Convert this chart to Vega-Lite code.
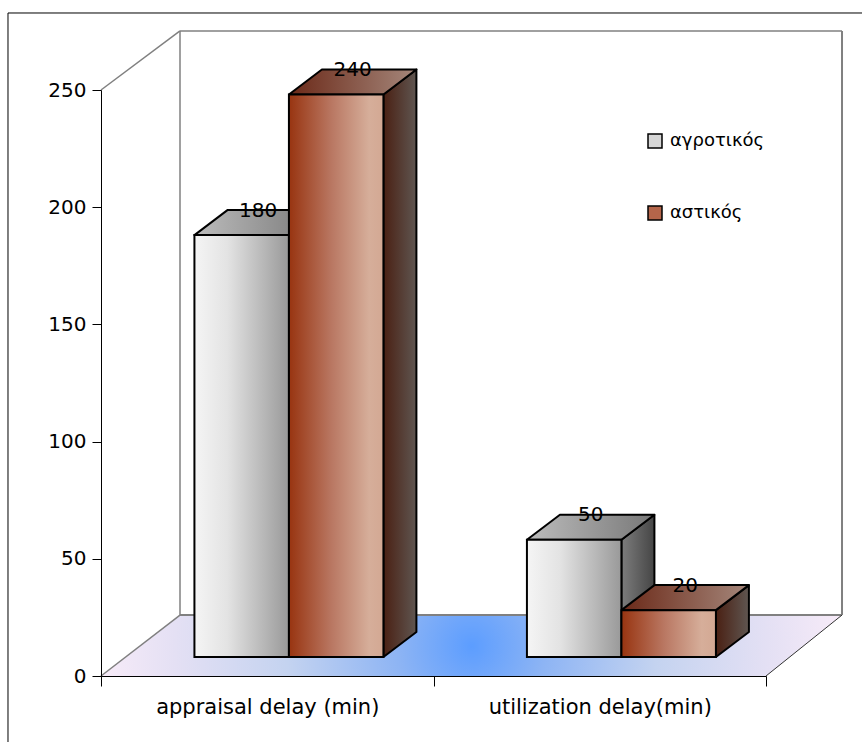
{
  "$schema": "https://vega.github.io/schema/vega-lite/v6.json",
  "autosize": {"type": "none"},
  "padding": {"left": 101, "top": 90, "right": 96, "bottom": 66},
  "width": 665,
  "height": 586,
  "background": "white",
  "config": {"view": {"stroke": null}, "font": "DejaVu Sans"},
  "data": {
    "values": [
      {"cat": "appraisal delay (min)", "series": "αγροτικός", "value": 180},
      {"cat": "appraisal delay (min)", "series": "αστικός", "value": 240},
      {"cat": "utilization delay(min)", "series": "αγροτικός", "value": 50},
      {"cat": "utilization delay(min)", "series": "αστικός", "value": 20}
    ]
  },
  "transform": [
    {"calculate": "datum.cat === 'appraisal delay (min)' ? 0 : 1", "as": "ci"},
    {"calculate": "datum.series === 'αγροτικός' ? 0 : 1", "as": "si"},
    {"calculate": "datum.ci + 0.281 + datum.si * 0.2842", "as": "x0"},
    {"calculate": "datum.x0 + 0.2842", "as": "x1"},
    {"calculate": "8.1", "as": "vb"},
    {"calculate": "8.1 + datum.value", "as": "vt"}
  ],
  "resolve": {"scale": {"color": "independent"}},
  "layer": [
    {
      "data": {"values": [{}]},
      "mark": {"type": "rule", "color": "black", "strokeWidth": 1},
      "encoding": {
        "x": {"datum": -0.2797, "type": "quantitative", "scale": {"domain": [0, 2], "nice": false, "zero": false},
          "axis": {
            "values": [0, 0.5, 1, 1.5, 2],
            "title": null, "grid": false, "zindex": 1,
            "domainColor": "black", "domainWidth": 1,
            "tickColor": "black", "tickSize": 10,
            "tickOpacity": {"condition": {"test": "datum.value % 1 === 0", "value": 1}, "value": 0},
            "labelExpr": "datum.value == 0.5 ? 'appraisal delay (min)' : (datum.value == 1.5 ? 'utilization delay(min)' : '')",
            "labelFont": "DejaVu Sans", "labelFontSize": 21, "labelColor": "black", "labelLimit": 0,
            "labelPadding": 10, "labelOverlap": false, "labelFlush": false, "labelBound": false
          }},
        "x2": {"datum": 2.6},
        "y": {"datum": 282.85, "type": "quantitative", "scale": {"domain": [0, 250], "nice": false, "zero": false},
          "axis": {
            "values": [0, 50, 100, 150, 200, 250],
            "title": null, "grid": false, "zindex": 1,
            "domainColor": "black", "domainWidth": 1,
            "tickColor": "black", "tickSize": 9,
            "labelFont": "DejaVu Sans", "labelFontSize": 20, "labelColor": "black", "labelPadding": 6
          }}
      }
    },
    {
      "data": {"values": [{}]},
      "mark": {"type": "rule", "color": "black", "strokeWidth": 1},
      "encoding": {
        "x": {"datum": -0.2797},
        "y": {"datum": 282.85},
        "y2": {"datum": -40}
      }
    },
    {
      "data": {"values": [{"d": 0}, {"d": 1}]},
      "transform": [
        {"calculate": "datum.d * 26.0", "as": "fv"},
        {"calculate": "datum.d * 0.2376", "as": "fxl"},
        {"calculate": "2 + datum.d * 0.2286", "as": "fxr"}
      ],
      "mark": {"type": "area", "orient": "horizontal",
        "fill": {"gradient": "radial", "x1": 0.5, "y1": 0.5, "r1": 0, "x2": 0.5, "y2": 0.5, "r2": 0.5,
          "stops": [
            {"offset": 0, "color": "#5c9dff"},
            {"offset": 0.2, "color": "#8db4f4"},
            {"offset": 0.5, "color": "#c4d3f0"},
            {"offset": 0.8, "color": "#e4e0f4"},
            {"offset": 1, "color": "#f7ebf8"}
          ]}},
      "encoding": {
        "y": {"field": "fv", "type": "quantitative", "stack": null},
        "x": {"field": "fxl", "type": "quantitative", "stack": null},
        "x2": {"field": "fxr"}
      }
    },
    {
      "data": {"values": [{}]},
      "mark": {"type": "rule", "color": "#808080", "strokeWidth": 1.5},
      "encoding": {"x": {"datum": 0}, "y": {"datum": 250}, "x2": {"datum": 0.2376}, "y2": {"datum": 275.2}}
    },
    {
      "data": {"values": [{}]},
      "mark": {"type": "rule", "color": "#808080", "strokeWidth": 1.5},
      "encoding": {"x": {"datum": 0.2376}, "y": {"datum": 275.2}, "x2": {"datum": 2.2286}, "y2": {"datum": 275.2}}
    },
    {
      "data": {"values": [{}]},
      "mark": {"type": "rule", "color": "#808080", "strokeWidth": 1.5},
      "encoding": {"x": {"datum": 0.2376}, "y": {"datum": 275.2}, "y2": {"datum": 26.0}}
    },
    {
      "data": {"values": [{}]},
      "mark": {"type": "rule", "color": "#808080", "strokeWidth": 2},
      "encoding": {"x": {"datum": 2.2286}, "y": {"datum": 275.2}, "y2": {"datum": 26.0}}
    },
    {
      "data": {"values": [{}]},
      "mark": {"type": "rule", "color": "#808080", "strokeWidth": 2},
      "encoding": {"x": {"datum": 0.2376}, "y": {"datum": 26.0}, "x2": {"datum": 2.2286}, "y2": {"datum": 26.0}}
    },
    {
      "data": {"values": [{}]},
      "mark": {"type": "rule", "color": "#808080", "strokeWidth": 1.5},
      "encoding": {"x": {"datum": 0}, "y": {"datum": 0}, "x2": {"datum": 0.2376}, "y2": {"datum": 26.0}}
    },
    {
      "data": {"values": [{}]},
      "mark": {"type": "rule", "color": "#333333", "strokeWidth": 1},
      "encoding": {"x": {"datum": 2}, "y": {"datum": 0}, "x2": {"datum": 2.2286}, "y2": {"datum": 26.0}}
    },
    {
      "transform": [
        {"filter": "datum.series === 'αγροτικός'"},
        {"calculate": "[0, 1]", "as": "k"},
        {"flatten": ["k"]},
        {"calculate": "datum.x1 + datum.k * 0.0992", "as": "px"},
        {"calculate": "datum.vt + datum.k * 10.67", "as": "pt"},
        {"calculate": "datum.vb + datum.k * 10.67", "as": "pb"}
      ],
      "mark": {"type": "area", "orient": "vertical", "stroke": "black", "strokeWidth": 2, "strokeJoin": "round",
        "fill": {"gradient": "linear", "x1": 0, "y1": 0, "x2": 1, "y2": 0,
          "stops": [{"offset": 0, "color": "#7d7d7d"}, {"offset": 1, "color": "#454545"}]}},
      "encoding": {
        "x": {"field": "px", "type": "quantitative"},
        "y": {"field": "pt", "type": "quantitative", "stack": null},
        "y2": {"field": "pb"},
        "detail": {"field": "cat"}
      }
    },
    {
      "transform": [
        {"filter": "datum.series === 'αστικός'"},
        {"calculate": "[0, 1]", "as": "k"},
        {"flatten": ["k"]},
        {"calculate": "datum.x1 + datum.k * 0.0992", "as": "px"},
        {"calculate": "datum.vt + datum.k * 10.67", "as": "pt"},
        {"calculate": "datum.vb + datum.k * 10.67", "as": "pb"}
      ],
      "mark": {"type": "area", "orient": "vertical", "stroke": "black", "strokeWidth": 2, "strokeJoin": "round",
        "fill": {"gradient": "linear", "x1": 0, "y1": 0, "x2": 1, "y2": 0,
          "stops": [{"offset": 0, "color": "#4a2013"}, {"offset": 1, "color": "#5f5651"}]}},
      "encoding": {
        "x": {"field": "px", "type": "quantitative"},
        "y": {"field": "pt", "type": "quantitative", "stack": null},
        "y2": {"field": "pb"},
        "detail": {"field": "cat"}
      }
    },
    {
      "transform": [
        {"filter": "datum.series === 'αγροτικός'"},
        {"calculate": "[0, 1]", "as": "k"},
        {"flatten": ["k"]},
        {"calculate": "datum.vt + datum.k * 10.67", "as": "yv"},
        {"calculate": "datum.x0 + datum.k * 0.0992", "as": "xl"},
        {"calculate": "datum.x1 + datum.k * 0.0992", "as": "xr"}
      ],
      "mark": {"type": "area", "orient": "horizontal", "stroke": "black", "strokeWidth": 2, "strokeJoin": "round",
        "fill": {"gradient": "linear", "x1": 0, "y1": 0, "x2": 1, "y2": 0,
          "stops": [{"offset": 0, "color": "#bcbcbc"}, {"offset": 1, "color": "#787878"}]}},
      "encoding": {
        "y": {"field": "yv", "type": "quantitative"},
        "x": {"field": "xl", "type": "quantitative", "stack": null},
        "x2": {"field": "xr"},
        "detail": {"field": "cat"}
      }
    },
    {
      "transform": [
        {"filter": "datum.series === 'αστικός'"},
        {"calculate": "[0, 1]", "as": "k"},
        {"flatten": ["k"]},
        {"calculate": "datum.vt + datum.k * 10.67", "as": "yv"},
        {"calculate": "datum.x0 + datum.k * 0.0992", "as": "xl"},
        {"calculate": "datum.x1 + datum.k * 0.0992", "as": "xr"}
      ],
      "mark": {"type": "area", "orient": "horizontal", "stroke": "black", "strokeWidth": 2, "strokeJoin": "round",
        "fill": {"gradient": "linear", "x1": 0, "y1": 0, "x2": 1, "y2": 0,
          "stops": [{"offset": 0, "color": "#6b2918"}, {"offset": 1, "color": "#a5877b"}]}},
      "encoding": {
        "y": {"field": "yv", "type": "quantitative"},
        "x": {"field": "xl", "type": "quantitative", "stack": null},
        "x2": {"field": "xr"},
        "detail": {"field": "cat"}
      }
    },
    {
      "transform": [{"filter": "datum.series === 'αγροτικός'"}],
      "mark": {"type": "rect", "stroke": "black", "strokeWidth": 2,
        "fill": {"gradient": "linear", "x1": 0, "y1": 0, "x2": 1, "y2": 0,
          "stops": [{"offset": 0, "color": "#f5f5f5"}, {"offset": 0.35, "color": "#e3e3e3"}, {"offset": 1, "color": "#999999"}]}},
      "encoding": {
        "x": {"field": "x0", "type": "quantitative"},
        "x2": {"field": "x1"},
        "y": {"field": "vt", "type": "quantitative"},
        "y2": {"field": "vb"}
      }
    },
    {
      "transform": [{"filter": "datum.series === 'αστικός'"}],
      "mark": {"type": "rect", "stroke": "black", "strokeWidth": 2,
        "fill": {"gradient": "linear", "x1": 0, "y1": 0, "x2": 1, "y2": 0,
          "stops": [{"offset": 0, "color": "#983410"}, {"offset": 0.45, "color": "#b97762"}, {"offset": 0.85, "color": "#d6ae9a"}, {"offset": 1, "color": "#d3a893"}]}},
      "encoding": {
        "x": {"field": "x0", "type": "quantitative"},
        "x2": {"field": "x1"},
        "y": {"field": "vt", "type": "quantitative"},
        "y2": {"field": "vb"}
      }
    },
    {
      "transform": [
        {"calculate": "(datum.x0 + datum.x1) / 2 + 0.0496", "as": "xc"},
        {"calculate": "datum.vt + 5.33", "as": "yc"}
      ],
      "mark": {"type": "text", "font": "DejaVu Sans", "fontSize": 20, "color": "black", "baseline": "middle", "align": "center", "dy": -12},
      "encoding": {
        "x": {"field": "xc", "type": "quantitative"},
        "y": {"field": "yc", "type": "quantitative"},
        "text": {"field": "value", "type": "quantitative"}
      }
    },
    {
      "mark": {"type": "point", "shape": "square", "filled": true, "opacity": 0},
      "encoding": {
        "x": {"datum": 1},
        "y": {"datum": 100},
        "color": {
          "field": "series", "type": "nominal",
          "scale": {"domain": ["αγροτικός", "αστικός"], "range": ["#d6d6d6", "#b4654a"]},
          "legend": {
            "title": null, "orient": "none", "legendX": 545, "legendY": 42,
            "symbolType": "square", "symbolSize": 196, "symbolOpacity": 1,
            "symbolStrokeColor": "black", "symbolStrokeWidth": 1.5,
            "labelFont": "DejaVu Sans", "labelFontSize": 18, "labelColor": "black",
            "labelOffset": 6, "rowPadding": 52
          }
        }
      }
    }
  ]
}
